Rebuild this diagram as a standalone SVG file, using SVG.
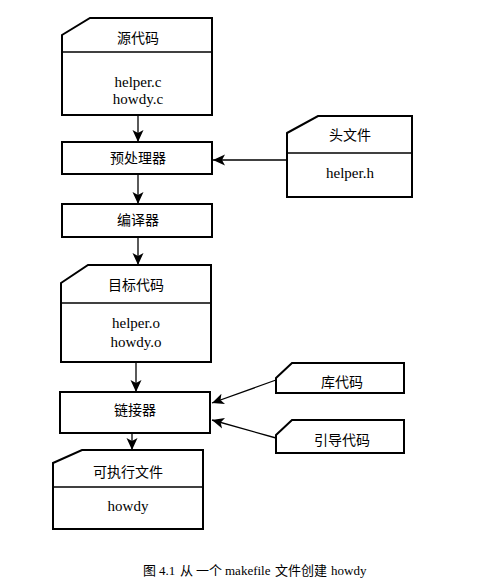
<svg xmlns="http://www.w3.org/2000/svg" width="492" height="588" viewBox="0 0 492 588">
  <style>
    .box { fill: none; stroke: #000; stroke-width: 2; }
    .div { stroke: #000; stroke-width: 1.6; }
    .edge { stroke: #000; stroke-width: 1.3; fill: none; }
    .cjk { font-family: "Noto Sans CJK SC", sans-serif; font-size: 14px; text-anchor: middle; fill: #000; }
    .lat { font-family: "Liberation Serif", serif; font-size: 15px; text-anchor: middle; fill: #000; }
    .cap { font-family: "Liberation Serif", "Noto Sans CJK SC", serif; font-size: 13px; fill: #000; }
  </style>
  <defs>
    <marker id="arrow" markerWidth="13" markerHeight="13" refX="12" refY="6.5" orient="auto" markerUnits="userSpaceOnUse">
      <path d="M0,1 L12,6.5 L0,12 L3,6.5 Z" fill="#000"/>
    </marker>
  </defs>
  <rect width="492" height="588" fill="#fff"/>

  <!-- connectors -->
  <g id="connectors">
    <line class="edge" x1="138" y1="115" x2="138" y2="142" marker-end="url(#arrow)"/>
    <line class="edge" x1="287" y1="160" x2="213" y2="160" marker-end="url(#arrow)"/>
    <line class="edge" x1="138" y1="174" x2="138" y2="204" marker-end="url(#arrow)"/>
    <line class="edge" x1="138" y1="237" x2="138" y2="265" marker-end="url(#arrow)"/>
    <line class="edge" x1="136" y1="362" x2="136" y2="392" marker-end="url(#arrow)"/>
    <line class="edge" x1="276" y1="380" x2="212" y2="403" marker-end="url(#arrow)"/>
    <line class="edge" x1="276" y1="438" x2="212" y2="420" marker-end="url(#arrow)"/>
    <line class="edge" x1="132" y1="433" x2="132" y2="450" marker-end="url(#arrow)"/>
  </g>

  <!-- source code -->
  <g id="source">
    <path class="box" d="M62,35 L90,18 L212,18 L212,115 L62,115 Z"/>
    <line class="div" x1="62" y1="52" x2="212" y2="52"/>
    <text class="cjk" x="138" y="43">源代码</text>
    <text class="lat" x="138" y="87">helper.c</text>
    <text class="lat" x="138" y="104">howdy.c</text>
  </g>

  <!-- preprocessor -->
  <g id="preprocessor">
    <rect class="box" x="62" y="142" width="150" height="32"/>
    <text class="cjk" x="138" y="163">预处理器</text>
  </g>

  <!-- header file -->
  <g id="header">
    <path class="box" d="M287,133 L318,116 L412,116 L412,197 L287,197 Z"/>
    <line class="div" x1="287" y1="153" x2="412" y2="153"/>
    <text class="cjk" x="350" y="140">头文件</text>
    <text class="lat" x="350" y="178">helper.h</text>
  </g>

  <!-- compiler -->
  <g id="compiler">
    <rect class="box" x="62" y="204" width="150" height="33"/>
    <text class="cjk" x="138" y="225">编译器</text>
  </g>

  <!-- object code -->
  <g id="object">
    <path class="box" d="M61,283 L88,265 L211,265 L211,362 L61,362 Z"/>
    <line class="div" x1="61" y1="303" x2="211" y2="303"/>
    <text class="cjk" x="136" y="290">目标代码</text>
    <text class="lat" x="136" y="328">helper.o</text>
    <text class="lat" x="136" y="347">howdy.o</text>
  </g>

  <!-- linker -->
  <g id="linker">
    <rect class="box" x="60" y="392" width="150" height="41"/>
    <text class="cjk" x="135" y="415">链接器</text>
  </g>

  <!-- library code -->
  <g id="library">
    <path class="box" d="M276,378 L292,363 L404,363 L404,393 L276,393 Z"/>
    <text class="cjk" x="342" y="387">库代码</text>
  </g>

  <!-- startup code -->
  <g id="startup">
    <path class="box" d="M276,435 L292,420 L404,420 L404,453 L276,453 Z"/>
    <text class="cjk" x="342" y="445">引导代码</text>
  </g>

  <!-- executable -->
  <g id="executable">
    <path class="box" d="M53,463 L82,450 L203,450 L203,529 L53,529 Z"/>
    <line class="div" x1="53" y1="487" x2="203" y2="487"/>
    <text class="cjk" x="128" y="477">可执行文件</text>
    <text class="lat" x="128" y="511">howdy</text>
  </g>

  <!-- figure caption -->
  <text class="cap" y="575"><tspan x="143">图</tspan><tspan x="159">4.1</tspan><tspan x="180">从</tspan><tspan x="196">一个</tspan><tspan x="225">makefile</tspan><tspan x="275">文件创建</tspan><tspan x="331">howdy</tspan></text>
</svg>
